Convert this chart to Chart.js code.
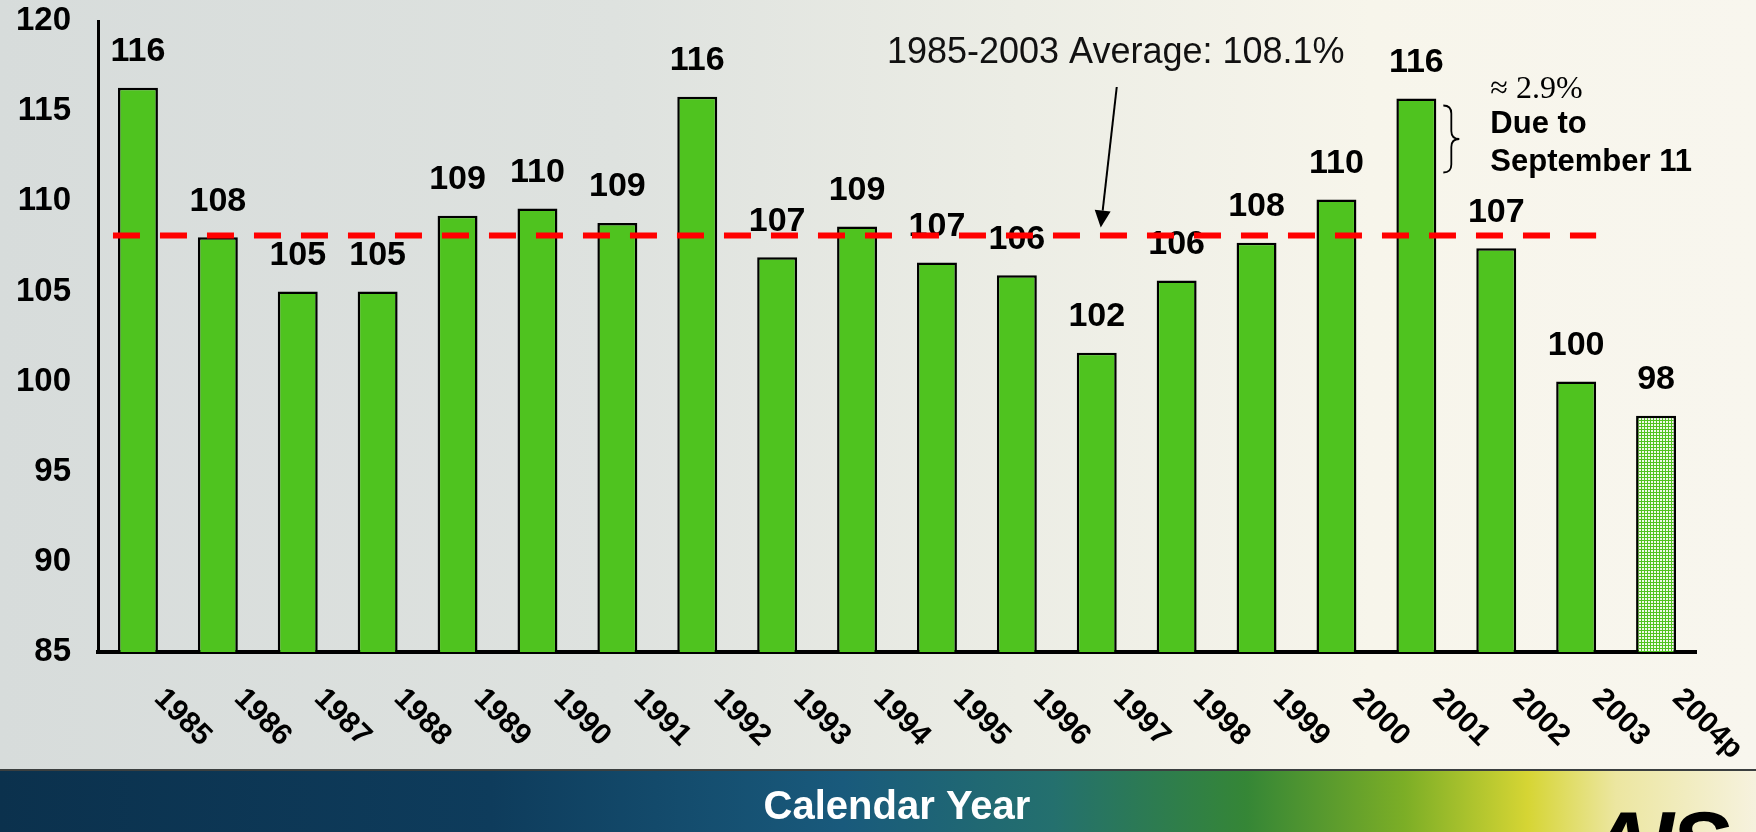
<!DOCTYPE html>
<html>
<head>
    <title>Calendar Year</title>
    <script src="https://cdn.jsdelivr.net/npm/chart.js@4.4.0/dist/chart.umd.min.js"></script>
    <style>
        html, body {
            margin: 0;
            padding: 0;
        }
        body {
            width: 1756px;
            height: 832px;
            position: relative;
            overflow: hidden;
            background: linear-gradient(to right, #d7dcdb 0%, #dee2df 35%, #ecede5 58%, #f7f5eb 78%, #f8f6ee 100%);
            font-family: "Liberation Sans", Arial, sans-serif;
        }
        .banner {
            position: absolute;
            left: 0;
            top: 769px;
            width: 1756px;
            height: 63px;
            border-top: 2px solid #3b3f3f;
            background: linear-gradient(to right, #0b314d 0%, #0e3c5c 28%, #195a7c 48%, #24706e 60%, #358636 71%, #7cae26 80%, #d6d534 87%, #ece6a0 92%, #f6f2de 100%);
            overflow: hidden;
        }
        .logo {
            position: absolute;
            left: 1588px;
            top: 22px;
            font: italic bold 90px "Liberation Sans", Arial, sans-serif;
            color: #000;
            letter-spacing: -4px;
        }
        .chart-box {
            position: absolute;
            left: 0;
            top: 0;
            width: 1756px;
            height: 832px;
        }
    </style>
</head>
<body>
    <div class="banner"><span class="logo">AIS</span></div>
    <div class="chart-box">
        <canvas id="loadChart"></canvas>
    </div>

    <script>
        const years = ['1985', '1986', '1987', '1988', '1989', '1990', '1991', '1992', '1993', '1994',
                       '1995', '1996', '1997', '1998', '1999', '2000', '2001', '2002', '2003', '2004p'];
        const loadFactor = [116.3, 108.0, 105.0, 105.0, 109.2, 109.6, 108.8, 115.8, 106.9, 108.6,
                            106.6, 105.9, 101.6, 105.6, 107.7, 110.1, 115.7, 107.4, 100.0, 98.1];
        const yTicks = [85, 90, 95, 100, 105, 110, 115, 120];
        const averageValue = 108.1;
        const averageFrom = '1985';
        const averageTo = '2003';
        const averageText = '1985-2003 Average: 108.1%';
        const projectedYear = '2004p';
        const noteYear = '2001';
        const noteLines = ['\u2248 2.9%', 'Due to', 'September 11'];

        const FONT = '"Liberation Sans", Arial, sans-serif';
        const GREEN = '#4fc31f';

        function meshPattern() {
            const c = document.createElement('canvas');
            c.width = 3;
            c.height = 3;
            const g = c.getContext('2d');
            g.fillStyle = GREEN;
            g.fillRect(0, 0, 3, 3);
            g.fillStyle = '#eef9e8';
            g.fillRect(1, 1, 2, 2);
            return g.createPattern(c, 'repeat');
        }

        const mesh = meshPattern();
        const barColors = years.map(y => y === projectedYear ? mesh : GREEN);

        function drawBrace(ctx, x, top, bottom, w) {
            const mid = (top + bottom) / 2;
            const r = w / 2;
            ctx.beginPath();
            ctx.moveTo(x, top);
            ctx.quadraticCurveTo(x + r, top, x + r, top + r);
            ctx.lineTo(x + r, mid - r);
            ctx.quadraticCurveTo(x + r, mid, x + w, mid);
            ctx.quadraticCurveTo(x + r, mid, x + r, mid + r);
            ctx.lineTo(x + r, bottom - r);
            ctx.quadraticCurveTo(x + r, bottom, x, bottom);
            ctx.stroke();
        }

        const overlay = {
            id: 'overlay',
            afterDatasetsDraw(chart) {
                const ctx = chart.ctx;
                const xs = chart.scales.x;
                const ys = chart.scales.y;
                const bars = chart.getDatasetMeta(0).data;
                const area = chart.chartArea;

                ctx.save();

                // value labels above bars
                ctx.fillStyle = '#000';
                ctx.font = 'bold 34px ' + FONT;
                ctx.textAlign = 'center';
                ctx.textBaseline = 'middle';
                bars.forEach((bar, i) => {
                    ctx.fillText(String(Math.round(loadFactor[i])), bar.x, bar.y - 36);
                });

                // rotated year labels
                ctx.font = 'bold 30px ' + FONT;
                ctx.textAlign = 'left';
                years.forEach((y, i) => {
                    const x = xs.getPixelForTick(i);
                    ctx.save();
                    ctx.translate(x + 21, area.bottom + 42);
                    ctx.rotate(Math.PI / 4);
                    ctx.fillText(y, 0, 0);
                    ctx.restore();
                });

                // average line
                const yAvg = ys.getPixelForValue(averageValue);
                const b0 = bars[years.indexOf(averageFrom)];
                const b1 = bars[years.indexOf(averageTo)];
                ctx.strokeStyle = '#ff0000';
                ctx.lineWidth = 6;
                ctx.setLineDash([27, 20]);
                ctx.beginPath();
                ctx.moveTo(b0.x - b0.width / 2 - 5, yAvg);
                ctx.lineTo(b1.x + b1.width / 2, yAvg);
                ctx.stroke();
                ctx.setLineDash([]);

                // average label and arrow
                const tipX = xs.getPixelForValue(12) + 4;
                const tipY = yAvg - 8;
                const textX = tipX + 15;
                const textY = 53;
                ctx.fillStyle = '#111';
                ctx.font = '36px ' + FONT;
                ctx.textAlign = 'center';
                ctx.fillText(averageText, textX, textY);

                const sx = tipX + 16;
                const sy = textY + 34;
                const ang = Math.atan2(tipY - sy, tipX - sx);
                const headLen = 17;
                const headW = 8;
                const bx = tipX - headLen * Math.cos(ang);
                const by = tipY - headLen * Math.sin(ang);
                ctx.strokeStyle = '#000';
                ctx.lineWidth = 2;
                ctx.beginPath();
                ctx.moveTo(sx, sy);
                ctx.lineTo(bx, by);
                ctx.stroke();
                ctx.fillStyle = '#000';
                ctx.beginPath();
                ctx.moveTo(tipX, tipY);
                ctx.lineTo(bx + headW * Math.sin(ang), by - headW * Math.cos(ang));
                ctx.lineTo(bx - headW * Math.sin(ang), by + headW * Math.cos(ang));
                ctx.closePath();
                ctx.fill();

                // September 11 note
                const nb = bars[years.indexOf(noteYear)];
                const right = nb.x + nb.width / 2;
                ctx.lineWidth = 1.8;
                drawBrace(ctx, right + 7, nb.y + 7, nb.y + 74, 16);
                const nx = right + 54;
                ctx.textAlign = 'left';
                ctx.fillStyle = '#000';
                ctx.font = '32px "Liberation Serif", "Times New Roman", serif';
                ctx.fillText(noteLines[0], nx, nb.y - 9);
                ctx.font = 'bold 31px ' + FONT;
                ctx.fillText(noteLines[1], nx, nb.y + 26);
                ctx.fillText(noteLines[2], nx, nb.y + 64);

                ctx.restore();
            }
        };

        new Chart(document.getElementById('loadChart'), {
            type: 'bar',
            data: {
                labels: years,
                datasets: [{
                    data: loadFactor,
                    backgroundColor: barColors,
                    borderColor: '#000',
                    borderWidth: 2.5,
                    barPercentage: 0.5,
                    categoryPercentage: 1.0
                }]
            },
            options: {
                responsive: true,
                maintainAspectRatio: false,
                animation: false,
                layout: {
                    padding: { top: 21, right: 60, left: 0, bottom: 0 }
                },
                plugins: {
                    legend: { display: false },
                    tooltip: { enabled: false }
                },
                scales: {
                    x: {
                        grid: { display: false },
                        border: { display: true, color: '#000', width: 4 },
                        ticks: { display: false },
                        title: {
                            display: true,
                            text: 'Calendar Year',
                            color: '#fff',
                            font: { family: FONT, size: 40, weight: 'bold' },
                            padding: { top: 0, bottom: 0 }
                        },
                        afterFit: s => { s.height = 180; }
                    },
                    y: {
                        min: 85,
                        max: 120,
                        afterBuildTicks: s => { s.ticks = yTicks.map(v => ({ value: v })); },
                        grid: { display: false },
                        border: { display: true, color: '#000', width: 3 },
                        ticks: {
                            color: '#000',
                            font: { family: FONT, size: 33, weight: 'bold' },
                            padding: 19
                        },
                        afterFit: s => {
                            s.width = 98;
                            s.paddingTop = 0;
                            s.paddingBottom = 0;
                        }
                    }
                }
            },
            plugins: [overlay]
        });
    </script>
</body>
</html>
